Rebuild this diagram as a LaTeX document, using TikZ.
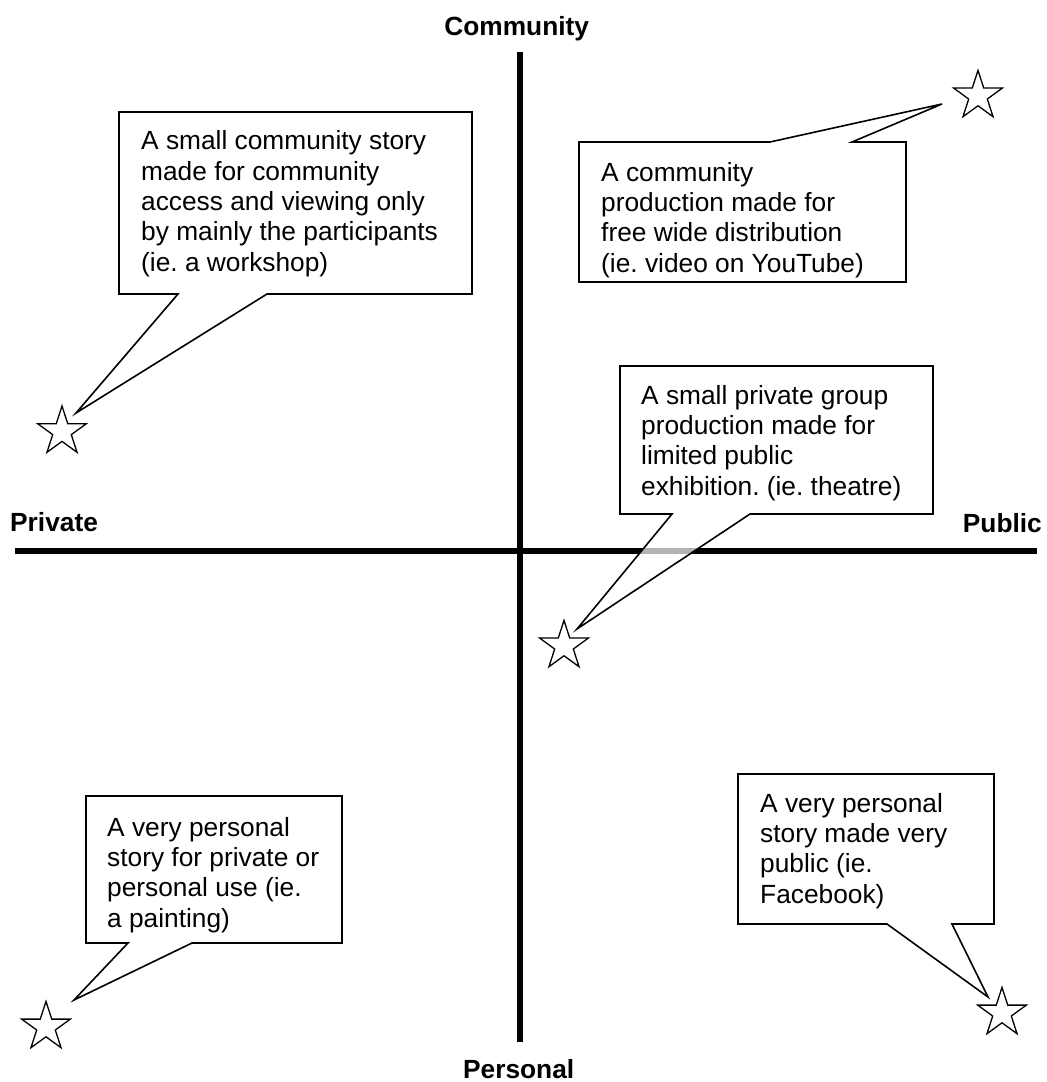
\documentclass[tikz,border=0pt]{standalone}
\usepackage{fontspec}
\setmainfont{Liberation Sans}
\usetikzlibrary{shapes.geometric}
\frenchspacing
\begin{document}
\begin{tikzpicture}[x=1pt,y=-1pt,
  axis/.style={line width=6pt},
  callout/.style={draw=black, line width=1.6pt, fill=white, line join=miter},
  calltext/.style={anchor=north west, inner sep=0pt, align=left,
    font=\fontsize{26.3}{30.3}\selectfont},
  axlabel/.style={anchor=base, inner sep=0pt,
    font=\fontsize{26.3}{30.3}\selectfont\bfseries},
  starmark/.style={star, star points=5, star point ratio=2.618, draw, line width=1.3pt,
    fill=white, minimum size=51.2pt, inner sep=0pt}]
\useasboundingbox (0,0) rectangle (1047,1082);
% axes
\coordinate (axL) at (15,551.3);
\coordinate (axR) at (1036.7,551.3);
\coordinate (axT) at (519.7,51.7);
\coordinate (axB) at (519.7,1041.7);
\draw[axis] (axL) -- (axR);
\draw[axis] (axT) -- (axB);
% axis labels
\node[axlabel] (lcom) at (516.7,35) {Community};
\node[axlabel] (lper) at (518.7,1078.3) {Personal};
\node[axlabel, anchor=base west] (lpri) at (10,531) {Private};
\node[axlabel, anchor=base east] (lpub) at (1042,532.7) {Public};
% stars
\node[starmark] (s1) at (62,431.6) {};
\node[starmark] (s2) at (978,96) {};
\node[starmark] (s3) at (564,646) {};
\node[starmark] (s4) at (46,1027) {};
\node[starmark] (s5) at (1002,1013) {};
% callout 1
\draw[callout] (119,112) -- (472,112) -- (472,294) -- (267,294) -- (76,413) -- (178,294) -- (119,294) -- cycle;
\node[calltext] (t1) at (141,130.7) {A small community story\\made for community\\access and viewing only\\by mainly the participants\\(ie. a workshop)};
% callout 2
\draw[callout] (579,142) -- (770,142) -- (942,104) -- (852,142) -- (906,142) -- (906,282) -- (579,282) -- cycle;
\node[calltext] (t2) at (601,162) {A community\\production made for\\free wide distribution\\(ie. video on YouTube)};
% callout 3 (semi-transparent fill over the axis)
\draw[callout, fill opacity=0.7] (620,366) -- (933,366) -- (933,514) -- (750,514) -- (577,629) -- (672,514) -- (620,514) -- cycle;
\node[calltext] (t3) at (641,385) {A small private group\\production made for\\limited public\\exhibition. (ie. theatre)};
% callout 4
\draw[callout] (86,796) -- (342,796) -- (342,943) -- (192,943) -- (74,1000) -- (128,943) -- (86,943) -- cycle;
\node[calltext] (t4) at (107,817) {A very personal\\story for private or\\personal use (ie.\\a painting)};
% callout 5
\draw[callout] (738,774) -- (994,774) -- (994,924) -- (952,924) -- (988,997) -- (887,924) -- (738,924) -- cycle;
\node[calltext] (t5) at (760,793) {A very personal\\story made very\\public (ie.\\Facebook)};
\end{tikzpicture}
\end{document}
